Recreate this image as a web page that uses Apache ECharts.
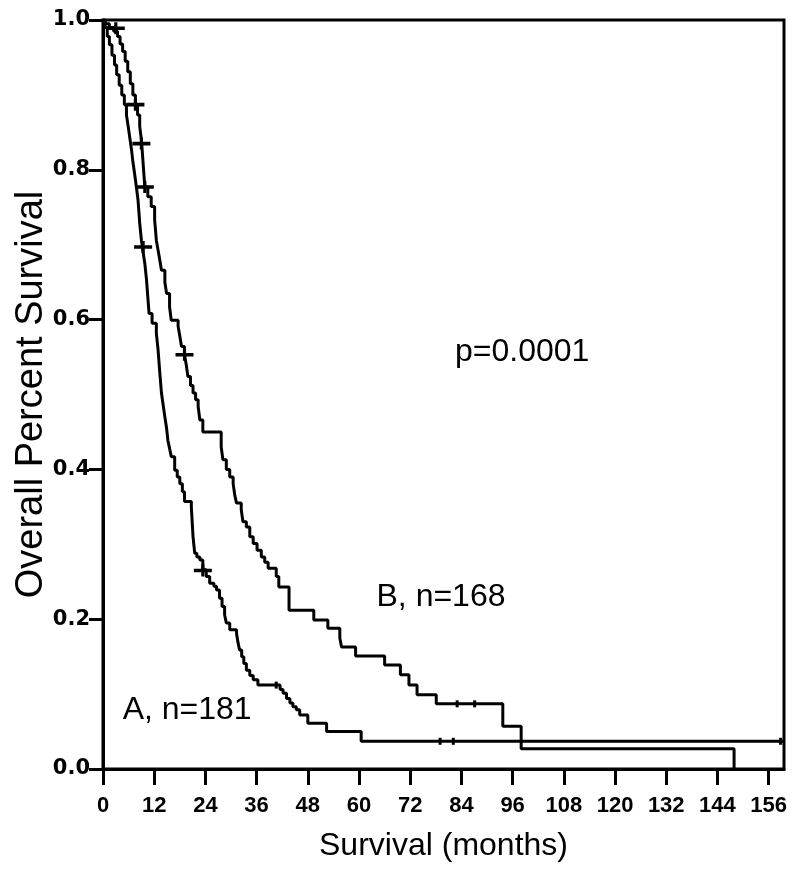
<!DOCTYPE html>
<html>
<head>
<meta charset="utf-8">
<script src="https://cdn.jsdelivr.net/npm/echarts@6/dist/echarts.min.js"></script>
<style>
html,body{margin:0;padding:0;background:#fff;}
#chart{width:800px;height:875px;}
</style>
</head>
<body>
<div id="chart"></div>
<script>
// Kaplan-Meier step points [month, survival] (drop happens at the month)
var curveA = [
  [0,1.0],[0.5,0.99],[1.0,0.978],[1.5,0.967],[2.1,0.953],[2.7,0.940],[3.2,0.927],[3.8,0.913],
  [4.4,0.900],[5.0,0.887],[5.5,0.873],[5.9,0.858],[6.3,0.842],[6.7,0.826],[7.0,0.811],[7.4,0.795],
  [7.8,0.778],[8.2,0.760],[8.4,0.745],[8.6,0.729],[9.0,0.706],[9.4,0.690],[9.8,0.675],[10.2,0.653],
  [10.5,0.630],[10.8,0.608],[11.5,0.595],[12.5,0.582],[12.9,0.560],[13.3,0.530],[13.7,0.502],
  [14.1,0.486],[14.5,0.470],[14.9,0.455],[15.2,0.439],[15.6,0.428],[16.0,0.417],[16.8,0.399],
  [17.4,0.390],[18.0,0.381],[18.6,0.370],[19.1,0.357],[20.7,0.350],[20.8,0.340],[20.9,0.330],
  [21.0,0.320],[21.1,0.310],[21.3,0.299],[21.5,0.288],[22.0,0.283],[22.7,0.279],[23.4,0.266],
  [24.2,0.257],[25.0,0.248],[26.0,0.244],[26.6,0.239],[27.3,0.228],[27.9,0.217],[28.5,0.206],
  [28.9,0.195],[29.7,0.186],[31.3,0.181],[31.6,0.170],[32.0,0.159],[32.5,0.150],[33.0,0.141],
  [33.6,0.132],[34.4,0.125],[35.2,0.119],[36.3,0.112],[41.5,0.106],[42.2,0.101],[43.0,0.094],
  [43.8,0.088],[44.5,0.083],[45.3,0.079],[46.1,0.072],[48.0,0.061],[52.4,0.050],[60.5,0.037],
  [159.6,0.037]
];
var curveB = [
  [0,1.0],[0.5,0.995],[1.5,0.990],[2.5,0.985],[3.4,0.978],[4.0,0.968],[4.6,0.958],[5.2,0.945],
  [5.8,0.931],[6.4,0.915],[7.0,0.900],[7.6,0.887],[8.1,0.873],[8.6,0.858],[9.0,0.840],[9.2,0.825],
  [9.4,0.809],[9.6,0.793],[9.8,0.777],[10.5,0.764],[11.3,0.751],[12.1,0.733],[12.3,0.720],
  [12.5,0.706],[12.9,0.693],[13.3,0.680],[13.7,0.666],[14.5,0.650],[14.9,0.635],[15.6,0.617],
  [16.0,0.599],[17.6,0.591],[18.0,0.578],[18.4,0.564],[19.1,0.553],[19.5,0.540],[19.9,0.524],
  [20.5,0.512],[21.1,0.502],[21.7,0.493],[22.3,0.484],[22.7,0.466],[23.4,0.450],[27.7,0.430],
  [28.1,0.413],[28.9,0.400],[29.7,0.390],[30.5,0.381],[30.9,0.365],[31.3,0.355],[32.4,0.346],
  [32.8,0.330],[33.6,0.323],[34.4,0.310],[35.2,0.301],[36.1,0.292],[37.1,0.283],[37.9,0.276],
  [38.7,0.268],[40.6,0.257],[41.2,0.243],[43.6,0.212],[49.4,0.199],[52.7,0.188],[55.5,0.175],
  [55.9,0.163],[59.2,0.151],[66.0,0.139],[69.7,0.126],[71.7,0.112],[73.6,0.099],[78.1,0.087],
  [93.7,0.057],[98.0,0.027],[147.9,0.0]
];
// censoring marks
var crossMarks = [[3.0,0.989],[7.6,0.887],[9.0,0.835],[9.8,0.777],[19.1,0.553],[9.4,0.697],[23.4,0.265]];
var tickMarks = [[40.6,0.112],[79.0,0.037],[82.1,0.037],[83.0,0.087],[87.1,0.087],[158.8,0.037]];
var xTicks = [0,12,24,36,48,60,72,84,96,108,120,132,144,156];
var annotations = [[82.5,0.556,'p=0.0001'],[64.1,0.23,'B, n=168'],[4.6,0.079,'A, n=181']];

var FONT = "'Liberation Sans', Arial, sans-serif";
var chart = echarts.init(document.getElementById('chart'), null, {renderer:'canvas'});
var plusPath = 'path://M0,3.5 H7 V0 H10 V3.5 H17 V6.5 H10 V10 H7 V6.5 H0 Z';

var option = {
  backgroundColor:'#fff',
  animation:false,
  grid:{left:103,right:16,top:20,bottom:106,containLabel:false,outerBoundsMode:'none',
    show:true,borderColor:'#000',borderWidth:3,backgroundColor:'transparent'},
  xAxis:{
    type:'value',min:0,max:159.6,interval:12,
    name:'Survival (months)',nameLocation:'middle',nameGap:61,nameMoveOverlap:false,
    nameTextStyle:{fontFamily:FONT,fontSize:32,color:'#000'},
    axisLine:{show:true,lineStyle:{color:'#000',width:3}},
    axisTick:{show:true,length:16,lineStyle:{color:'#000',width:3},customValues:xTicks},
    axisLabel:{fontFamily:FONT,fontSize:22,fontWeight:'bold',color:'#000',margin:26,customValues:xTicks},
    splitLine:{show:false}
  },
  yAxis:{
    type:'value',min:0,max:1,interval:0.2,
    name:'Overall Percent Survival',nameLocation:'middle',nameGap:52,nameMoveOverlap:false,
    nameTextStyle:{fontFamily:FONT,fontSize:38,color:'#000'},
    axisLine:{show:true,lineStyle:{color:'#000',width:3}},
    axisTick:{show:true,length:14,lineStyle:{color:'#000',width:3}},
    axisLabel:{fontFamily:"'DejaVu Sans', sans-serif",fontSize:21,fontWeight:'bold',color:'#000',margin:13,
      formatter:function(v){return v.toFixed(1);}},
    splitLine:{show:false}
  },
  series:[
    {type:'line',step:'end',data:curveA,symbol:'none',lineStyle:{color:'#000',width:3}},
    {type:'line',step:'end',data:curveB,symbol:'none',lineStyle:{color:'#000',width:3}},
    {type:'scatter',data:crossMarks,symbol:plusPath,symbolSize:[18,12],itemStyle:{color:'#000',opacity:1}},
    {type:'scatter',data:tickMarks,symbol:'rect',symbolSize:[3,7],itemStyle:{color:'#000',opacity:1}},
    {type:'scatter',symbolSize:0,itemStyle:{color:'#000'},
      data:annotations.map(function(a){return {value:[a[0],a[1]],name:a[2]};}),
      label:{show:true,position:[0,0],align:'left',verticalAlign:'middle',opacity:1,
        formatter:function(p){return p.name;},
        fontFamily:FONT,fontSize:32,color:'#000',textBorderWidth:0}}
  ]
};
chart.setOption(option);
</script>
</body>
</html>
